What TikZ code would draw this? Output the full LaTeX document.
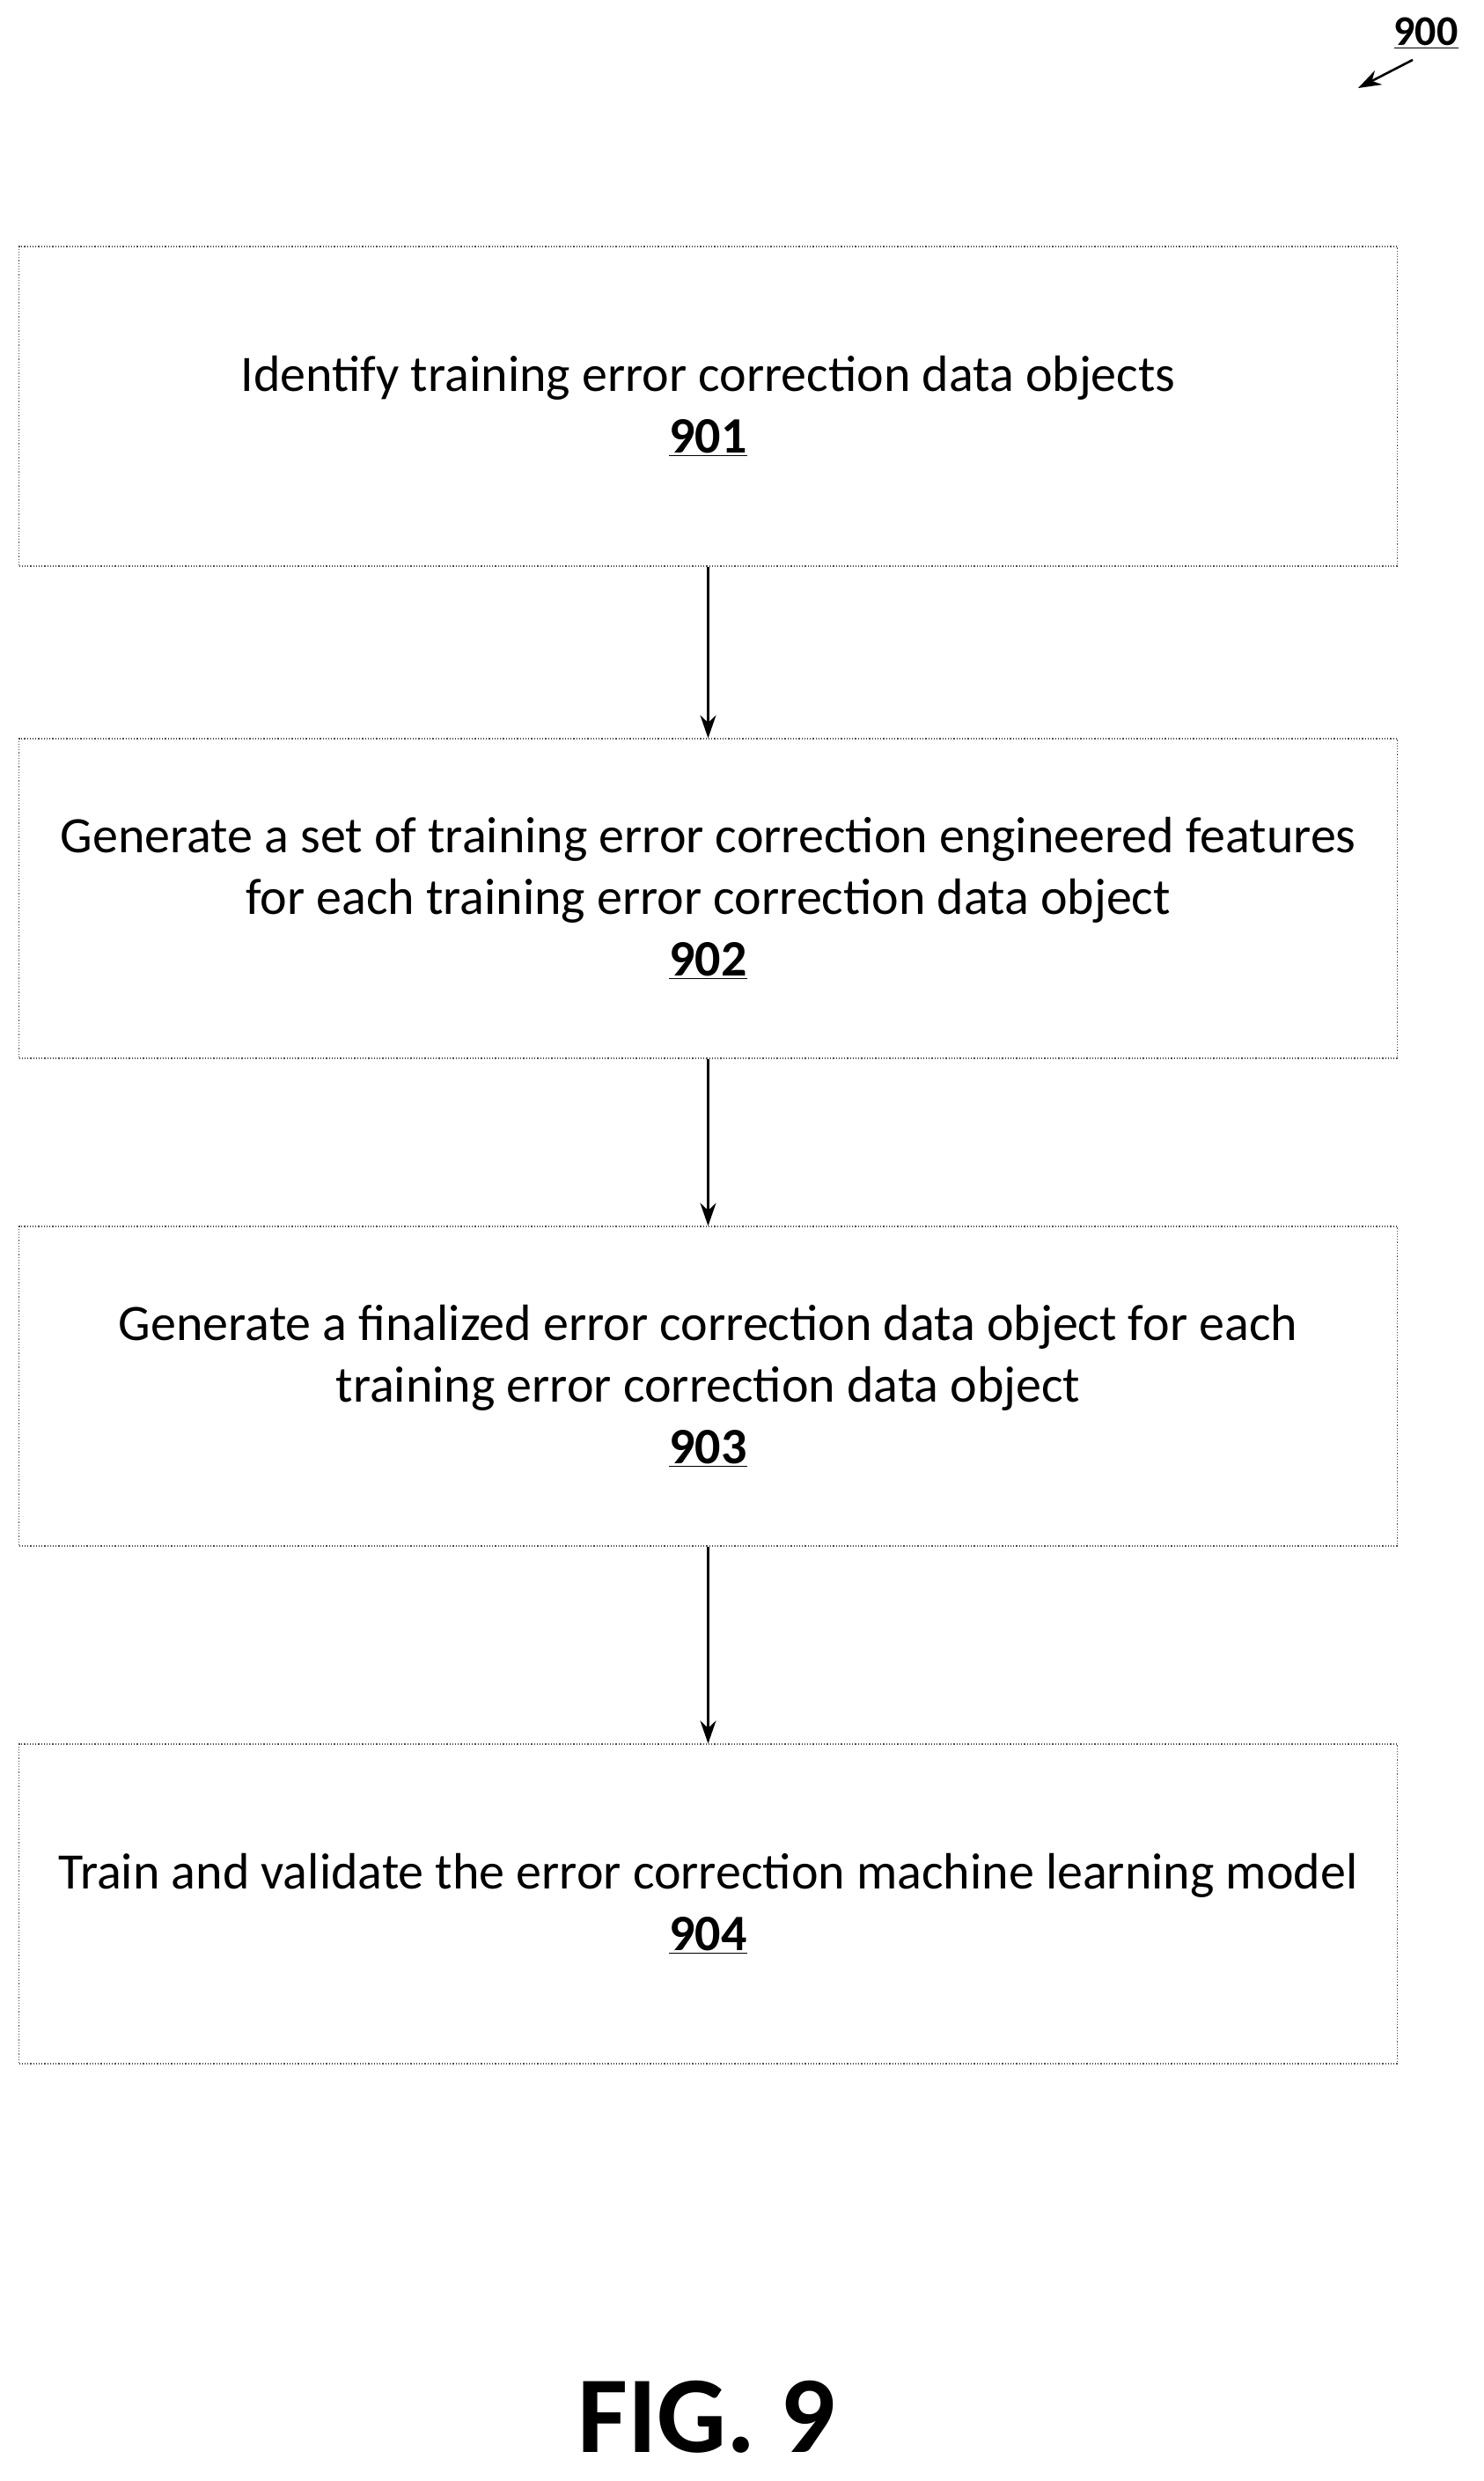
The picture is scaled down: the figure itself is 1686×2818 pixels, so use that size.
\documentclass[tikz,border=0pt]{standalone}
\usepackage{fontspec}
\setmainfont{Carlito}
\usetikzlibrary{arrows.meta}
\begin{document}
\begin{tikzpicture}[x=0.5pt,y=-0.5pt,
  box/.style={draw=black!70,densely dotted,line width=0.6pt,minimum width=783pt,minimum height=181.5pt,align=center,font=\fontsize{29}{35}\selectfont,inner sep=0pt},
  arr/.style={-{Stealth[length=13pt,width=9pt]},line width=1.3pt}]
\useasboundingbox (0,0) rectangle (1686,2818);
\node[box] (b1) at (804.5,461.5) {Identify training error correction data objects\\\textbf{\underline{901}}};
\node[box] (b2) at (804.5,1020.5) {Generate a set of training error correction engineered features\\for each training error correction data object\\\textbf{\underline{902}}};
\node[box] (b3) at (804.5,1574.5) {Generate a finalized error correction data object for each\\training error correction data object\\\textbf{\underline{903}}};
\node[box] (b4) at (804.5,2162.5) {Train and validate the error correction machine learning model\\\textbf{\underline{904}}};
\draw[arr] (b1) -- (b2);
\draw[arr] (b2) -- (b3);
\draw[arr] (b3) -- (b4);
\node[font=\fontsize{62}{70}\selectfont\bfseries] (fig) at (803,2745) {FIG. 9};
\node[font=\fontsize{24}{26}\selectfont\bfseries] (lbl) at (1620,38) {\underline{900}};
\coordinate (ae) at (1543,100);
\draw[arr] (1605,68) -- (ae);
\end{tikzpicture}
\end{document}
